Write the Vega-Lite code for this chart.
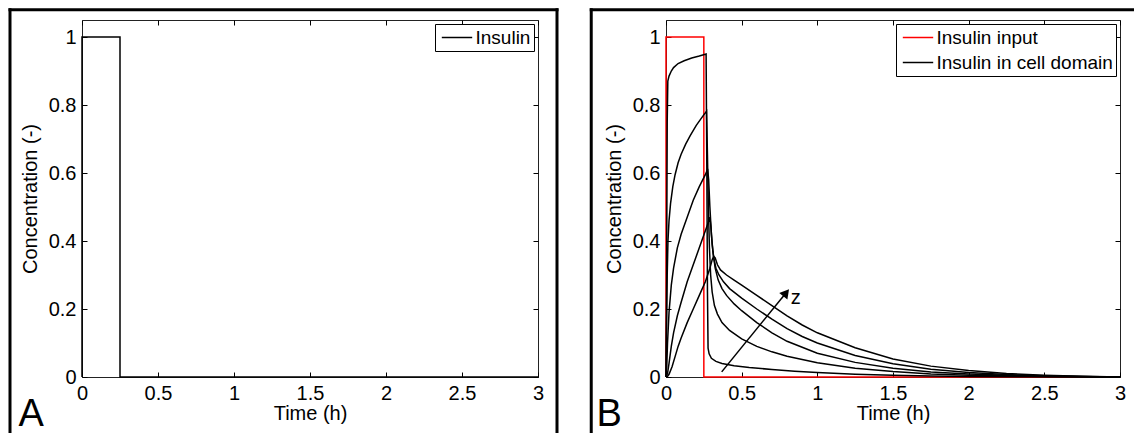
{
  "$schema": "https://vega.github.io/schema/vega-lite/v6.json",
  "padding": {"left": 7, "top": 7, "right": 0, "bottom": 0},
  "background": "white",
  "datasets": {
    "a": [
      {"series": "Insulin", "t": 0, "c": 0},
      {"series": "Insulin", "t": 0, "c": 1},
      {"series": "Insulin", "t": 0.25, "c": 1},
      {"series": "Insulin", "t": 0.25, "c": 0},
      {"series": "Insulin", "t": 3, "c": 0}
    ],
    "names": [
      {"curve": "input", "series": "Insulin input"},
      {"curve": "z1", "series": "Insulin in cell domain"},
      {"curve": "z2", "series": "Insulin in cell domain"},
      {"curve": "z3", "series": "Insulin in cell domain"},
      {"curve": "z4", "series": "Insulin in cell domain"},
      {"curve": "z5", "series": "Insulin in cell domain"}
    ],
    "b": [
      {"curve": "input", "t": 0, "c": 0},
      {"curve": "input", "t": 0, "c": 1},
      {"curve": "input", "t": 0.25, "c": 1},
      {"curve": "input", "t": 0.25, "c": 0},
      {"curve": "input", "t": 3, "c": 0},

      {"curve": "z1", "t": 0, "c": 0},
      {"curve": "z1", "t": 0.004, "c": 0.3},
      {"curve": "z1", "t": 0.008, "c": 0.75},
      {"curve": "z1", "t": 0.012, "c": 0.87},
      {"curve": "z1", "t": 0.02, "c": 0.885},
      {"curve": "z1", "t": 0.035, "c": 0.9},
      {"curve": "z1", "t": 0.05, "c": 0.91},
      {"curve": "z1", "t": 0.08, "c": 0.922},
      {"curve": "z1", "t": 0.12, "c": 0.93},
      {"curve": "z1", "t": 0.17, "c": 0.938},
      {"curve": "z1", "t": 0.22, "c": 0.944},
      {"curve": "z1", "t": 0.265, "c": 0.95},
      {"curve": "z1", "t": 0.27, "c": 0.6},
      {"curve": "z1", "t": 0.274, "c": 0.25},
      {"curve": "z1", "t": 0.278, "c": 0.085},
      {"curve": "z1", "t": 0.285, "c": 0.068},
      {"curve": "z1", "t": 0.3, "c": 0.055},
      {"curve": "z1", "t": 0.33, "c": 0.046},
      {"curve": "z1", "t": 0.37, "c": 0.04},
      {"curve": "z1", "t": 0.45, "c": 0.033},
      {"curve": "z1", "t": 0.55, "c": 0.028},
      {"curve": "z1", "t": 0.7, "c": 0.022},
      {"curve": "z1", "t": 0.85, "c": 0.017},
      {"curve": "z1", "t": 1.0, "c": 0.013},
      {"curve": "z1", "t": 1.25, "c": 0.008},
      {"curve": "z1", "t": 1.5, "c": 0.005},
      {"curve": "z1", "t": 1.75, "c": 0.003},
      {"curve": "z1", "t": 2.0, "c": 0.0015},
      {"curve": "z1", "t": 2.5, "c": 0.0004},
      {"curve": "z1", "t": 3, "c": 0},

      {"curve": "z2", "t": 0, "c": 0},
      {"curve": "z2", "t": 0.004, "c": 0.15},
      {"curve": "z2", "t": 0.008, "c": 0.3},
      {"curve": "z2", "t": 0.013, "c": 0.4},
      {"curve": "z2", "t": 0.02, "c": 0.46},
      {"curve": "z2", "t": 0.03, "c": 0.51},
      {"curve": "z2", "t": 0.045, "c": 0.56},
      {"curve": "z2", "t": 0.06, "c": 0.595},
      {"curve": "z2", "t": 0.08, "c": 0.63},
      {"curve": "z2", "t": 0.1, "c": 0.655},
      {"curve": "z2", "t": 0.13, "c": 0.685},
      {"curve": "z2", "t": 0.16, "c": 0.71},
      {"curve": "z2", "t": 0.2, "c": 0.74},
      {"curve": "z2", "t": 0.24, "c": 0.765},
      {"curve": "z2", "t": 0.268, "c": 0.782},
      {"curve": "z2", "t": 0.274, "c": 0.65},
      {"curve": "z2", "t": 0.28, "c": 0.5},
      {"curve": "z2", "t": 0.287, "c": 0.38},
      {"curve": "z2", "t": 0.295, "c": 0.3},
      {"curve": "z2", "t": 0.305, "c": 0.25},
      {"curve": "z2", "t": 0.32, "c": 0.21},
      {"curve": "z2", "t": 0.34, "c": 0.185},
      {"curve": "z2", "t": 0.37, "c": 0.16},
      {"curve": "z2", "t": 0.42, "c": 0.137},
      {"curve": "z2", "t": 0.5, "c": 0.112},
      {"curve": "z2", "t": 0.6, "c": 0.09},
      {"curve": "z2", "t": 0.7, "c": 0.074},
      {"curve": "z2", "t": 0.8, "c": 0.061},
      {"curve": "z2", "t": 1.0, "c": 0.042},
      {"curve": "z2", "t": 1.25, "c": 0.026},
      {"curve": "z2", "t": 1.5, "c": 0.016},
      {"curve": "z2", "t": 1.75, "c": 0.009},
      {"curve": "z2", "t": 2.0, "c": 0.005},
      {"curve": "z2", "t": 2.5, "c": 0.0015},
      {"curve": "z2", "t": 3, "c": 0},

      {"curve": "z3", "t": 0, "c": 0},
      {"curve": "z3", "t": 0.005, "c": 0.03},
      {"curve": "z3", "t": 0.01, "c": 0.1},
      {"curve": "z3", "t": 0.02, "c": 0.19},
      {"curve": "z3", "t": 0.035, "c": 0.27},
      {"curve": "z3", "t": 0.05, "c": 0.32},
      {"curve": "z3", "t": 0.075, "c": 0.38},
      {"curve": "z3", "t": 0.1, "c": 0.42},
      {"curve": "z3", "t": 0.14, "c": 0.47},
      {"curve": "z3", "t": 0.18, "c": 0.52},
      {"curve": "z3", "t": 0.22, "c": 0.56},
      {"curve": "z3", "t": 0.26, "c": 0.595},
      {"curve": "z3", "t": 0.275, "c": 0.612},
      {"curve": "z3", "t": 0.282, "c": 0.58},
      {"curve": "z3", "t": 0.29, "c": 0.5},
      {"curve": "z3", "t": 0.3, "c": 0.42},
      {"curve": "z3", "t": 0.31, "c": 0.37},
      {"curve": "z3", "t": 0.325, "c": 0.32},
      {"curve": "z3", "t": 0.345, "c": 0.285},
      {"curve": "z3", "t": 0.37, "c": 0.26},
      {"curve": "z3", "t": 0.4, "c": 0.24},
      {"curve": "z3", "t": 0.45, "c": 0.215},
      {"curve": "z3", "t": 0.5, "c": 0.195},
      {"curve": "z3", "t": 0.6, "c": 0.16},
      {"curve": "z3", "t": 0.7, "c": 0.13},
      {"curve": "z3", "t": 0.8, "c": 0.105},
      {"curve": "z3", "t": 1.0, "c": 0.07},
      {"curve": "z3", "t": 1.25, "c": 0.043},
      {"curve": "z3", "t": 1.5, "c": 0.026},
      {"curve": "z3", "t": 1.75, "c": 0.015},
      {"curve": "z3", "t": 2.0, "c": 0.009},
      {"curve": "z3", "t": 2.25, "c": 0.005},
      {"curve": "z3", "t": 2.5, "c": 0.0025},
      {"curve": "z3", "t": 3, "c": 0},

      {"curve": "z4", "t": 0, "c": 0},
      {"curve": "z4", "t": 0.01, "c": 0.01},
      {"curve": "z4", "t": 0.02, "c": 0.04},
      {"curve": "z4", "t": 0.035, "c": 0.09},
      {"curve": "z4", "t": 0.05, "c": 0.13},
      {"curve": "z4", "t": 0.075, "c": 0.18},
      {"curve": "z4", "t": 0.1, "c": 0.22},
      {"curve": "z4", "t": 0.14, "c": 0.28},
      {"curve": "z4", "t": 0.18, "c": 0.33},
      {"curve": "z4", "t": 0.22, "c": 0.38},
      {"curve": "z4", "t": 0.26, "c": 0.43},
      {"curve": "z4", "t": 0.28, "c": 0.455},
      {"curve": "z4", "t": 0.29, "c": 0.47},
      {"curve": "z4", "t": 0.297, "c": 0.44},
      {"curve": "z4", "t": 0.305, "c": 0.39},
      {"curve": "z4", "t": 0.315, "c": 0.35},
      {"curve": "z4", "t": 0.33, "c": 0.32},
      {"curve": "z4", "t": 0.35, "c": 0.3},
      {"curve": "z4", "t": 0.38, "c": 0.28},
      {"curve": "z4", "t": 0.42, "c": 0.26},
      {"curve": "z4", "t": 0.5, "c": 0.232},
      {"curve": "z4", "t": 0.6, "c": 0.2},
      {"curve": "z4", "t": 0.7, "c": 0.17},
      {"curve": "z4", "t": 0.8, "c": 0.142},
      {"curve": "z4", "t": 0.9, "c": 0.119},
      {"curve": "z4", "t": 1.0, "c": 0.1},
      {"curve": "z4", "t": 1.25, "c": 0.063},
      {"curve": "z4", "t": 1.5, "c": 0.039},
      {"curve": "z4", "t": 1.75, "c": 0.023},
      {"curve": "z4", "t": 2.0, "c": 0.013},
      {"curve": "z4", "t": 2.25, "c": 0.007},
      {"curve": "z4", "t": 2.5, "c": 0.0035},
      {"curve": "z4", "t": 2.75, "c": 0.0015},
      {"curve": "z4", "t": 3, "c": 0},

      {"curve": "z5", "t": 0, "c": 0},
      {"curve": "z5", "t": 0.01, "c": 0.002},
      {"curve": "z5", "t": 0.02, "c": 0.008},
      {"curve": "z5", "t": 0.04, "c": 0.03},
      {"curve": "z5", "t": 0.06, "c": 0.06},
      {"curve": "z5", "t": 0.08, "c": 0.09},
      {"curve": "z5", "t": 0.1, "c": 0.115},
      {"curve": "z5", "t": 0.14, "c": 0.16},
      {"curve": "z5", "t": 0.18, "c": 0.2},
      {"curve": "z5", "t": 0.22, "c": 0.24},
      {"curve": "z5", "t": 0.26, "c": 0.28},
      {"curve": "z5", "t": 0.29, "c": 0.32},
      {"curve": "z5", "t": 0.305, "c": 0.345},
      {"curve": "z5", "t": 0.315, "c": 0.355},
      {"curve": "z5", "t": 0.325, "c": 0.35},
      {"curve": "z5", "t": 0.34, "c": 0.33},
      {"curve": "z5", "t": 0.36, "c": 0.315},
      {"curve": "z5", "t": 0.4, "c": 0.3},
      {"curve": "z5", "t": 0.45, "c": 0.285},
      {"curve": "z5", "t": 0.5, "c": 0.27},
      {"curve": "z5", "t": 0.6, "c": 0.24},
      {"curve": "z5", "t": 0.7, "c": 0.21},
      {"curve": "z5", "t": 0.8, "c": 0.18},
      {"curve": "z5", "t": 0.9, "c": 0.153},
      {"curve": "z5", "t": 1.0, "c": 0.13},
      {"curve": "z5", "t": 1.25, "c": 0.086},
      {"curve": "z5", "t": 1.5, "c": 0.053},
      {"curve": "z5", "t": 1.75, "c": 0.032},
      {"curve": "z5", "t": 2.0, "c": 0.019},
      {"curve": "z5", "t": 2.25, "c": 0.01},
      {"curve": "z5", "t": 2.5, "c": 0.005},
      {"curve": "z5", "t": 2.75, "c": 0.002},
      {"curve": "z5", "t": 3, "c": 0}
    ]
  },
  "config": {
    "font": "Liberation Sans",
    "view": {"stroke": "#222222", "strokeWidth": 1},
    "axis": {
      "grid": false,
      "domain": false,
      "tickColor": "black",
      "tickSize": -5,
      "tickWidth": 1,
      "labelFont": "Liberation Sans",
      "labelFontSize": 20,
      "labelColor": "black",
      "labelPadding": 11,
      "labelFlush": false,
      "labelOverlap": false,
      "labelBound": false,
      "titleFont": "Liberation Sans",
      "titleFontSize": 20,
      "titleFontWeight": "normal",
      "titleColor": "black"
    },
    "axisX": {"titlePadding": 0},
    "axisY": {"titlePadding": 8},
    "legend": {
      "symbolType": "M-1.6,0H1.6",
      "symbolSize": 361,
      "symbolStrokeWidth": 1.5,
      "symbolOffset": 8.5,
      "labelFont": "Liberation Sans",
      "labelFontSize": 19,
      "labelColor": "black",
      "labelLimit": 0,
      "strokeColor": "black",
      "fillColor": "white",
      "padding": 3,
      "rowPadding": 4,
      "labelOffset": 8,
      "offset": 4,
      "cornerRadius": 0
    }
  },
  "spacing": 128,
  "bounds": "flush",
  "resolve": {"scale": {"color": "independent"}, "legend": {"color": "independent"}},
  "hconcat": [
    {
      "width": 456,
      "height": 357,
      "layer": [
        {
          "data": {"name": "a"},
          "mark": {"type": "line", "strokeWidth": 1.5},
          "encoding": {
            "x": {"field": "t", "type": "quantitative", "scale": {"domain": [0, 3], "nice": false},
                  "axis": {"values": [0, 0.5, 1, 1.5, 2, 2.5, 3], "format": "~g", "title": "Time (h)"}},
            "y": {"field": "c", "type": "quantitative", "scale": {"domain": [0, 1.05], "nice": false},
                  "axis": {"values": [0, 0.2, 0.4, 0.6, 0.8, 1], "format": "~g", "title": "Concentration (-)"}},
            "color": {"field": "series", "type": "nominal", "scale": {"domain": ["Insulin"], "range": ["black"]},
                      "legend": {"title": null, "orient": "top-right"}}
          }
        },
        {
          "data": {"values": [{}]},
          "mark": {"type": "rule", "strokeWidth": 3, "strokeCap": "square", "color": "black", "clip": false},
          "encoding": {
            "x": {"datum": -0.4737, "type": "quantitative", "scale": {"domain": [0, 3], "nice": false},
                  "axis": {"orient": "top", "values": [0, 0.5, 1, 1.5, 2, 2.5, 3], "labels": false, "title": null}},
            "y": {"datum": -0.164, "type": "quantitative", "scale": {"domain": [0, 1.05], "nice": false},
                  "axis": {"orient": "right", "values": [0, 0.2, 0.4, 0.6, 0.8, 1], "labels": false, "title": null}},
            "y2": {"datum": 1.08}
          }
        },
        {
          "data": {"values": [{}]},
          "mark": {"type": "rule", "strokeWidth": 3, "strokeCap": "square", "color": "black", "clip": false},
          "encoding": {
            "x": {"datum": -0.4737, "type": "quantitative", "scale": {"domain": [0, 3], "nice": false}, "axis": null},
            "x2": {"datum": 3.125},
            "y": {"datum": 1.08, "type": "quantitative", "scale": {"domain": [0, 1.05], "nice": false}, "axis": null}
          }
        },
        {
          "data": {"values": [{}]},
          "mark": {"type": "rule", "strokeWidth": 3, "strokeCap": "square", "color": "black", "clip": false},
          "encoding": {
            "x": {"datum": 3.125, "type": "quantitative", "scale": {"domain": [0, 3], "nice": false}, "axis": null},
            "y": {"datum": -0.164, "type": "quantitative", "scale": {"domain": [0, 1.05], "nice": false}, "axis": null},
            "y2": {"datum": 1.08}
          }
        },
        {
          "data": {"values": [{}]},
          "mark": {"type": "text", "text": "A", "fontSize": 38, "align": "left", "baseline": "bottom", "color": "black", "clip": false, "font": "Liberation Sans"},
          "encoding": {
            "x": {"datum": -0.418, "type": "quantitative", "scale": {"domain": [0, 3], "nice": false}, "axis": null},
            "y": {"datum": -0.1675, "type": "quantitative", "scale": {"domain": [0, 1.05], "nice": false}, "axis": null}
          }
        }
      ],
      "resolve": {"axis": {"x": "independent", "y": "independent"}}
    },
    {
      "width": 454,
      "height": 357,
      "layer": [
        {
          "data": {"name": "b"},
          "transform": [{"lookup": "curve", "from": {"data": {"name": "names"}, "key": "curve", "fields": ["series"]}}],
          "mark": {"type": "line", "strokeWidth": 1.5},
          "encoding": {
            "x": {"field": "t", "type": "quantitative", "scale": {"domain": [0, 3], "nice": false},
                  "axis": {"values": [0, 0.5, 1, 1.5, 2, 2.5, 3], "format": "~g", "title": "Time (h)"}},
            "y": {"field": "c", "type": "quantitative", "scale": {"domain": [0, 1.05], "nice": false},
                  "axis": {"values": [0, 0.2, 0.4, 0.6, 0.8, 1], "format": "~g", "title": "Concentration (-)"}},
            "color": {"field": "series", "type": "nominal",
                      "scale": {"domain": ["Insulin input", "Insulin in cell domain"], "range": ["#ff0000", "black"]},
                      "legend": {"title": null, "orient": "top-right"}},
            "detail": {"field": "curve"}
          }
        },
        {
          "data": {"values": [{}]},
          "mark": {"type": "rule", "strokeWidth": 3, "strokeCap": "square", "color": "black", "clip": false},
          "encoding": {
            "x": {"datum": -0.494, "type": "quantitative", "scale": {"domain": [0, 3], "nice": false},
                  "axis": {"orient": "top", "values": [0, 0.5, 1, 1.5, 2, 2.5, 3], "labels": false, "title": null}},
            "y": {"datum": -0.164, "type": "quantitative", "scale": {"domain": [0, 1.05], "nice": false},
                  "axis": {"orient": "right", "values": [0, 0.2, 0.4, 0.6, 0.8, 1], "labels": false, "title": null}},
            "y2": {"datum": 1.08}
          }
        },
        {
          "data": {"values": [{}]},
          "mark": {"type": "rule", "strokeWidth": 3, "strokeCap": "square", "color": "black", "clip": false},
          "encoding": {
            "x": {"datum": -0.494, "type": "quantitative", "scale": {"domain": [0, 3], "nice": false}, "axis": null},
            "x2": {"datum": 3.094},
            "y": {"datum": 1.08, "type": "quantitative", "scale": {"domain": [0, 1.05], "nice": false}, "axis": null}
          }
        },
        {
          "data": {"values": [{}]},
          "mark": {"type": "text", "text": "B", "fontSize": 38, "align": "left", "baseline": "bottom", "color": "black", "clip": false, "font": "Liberation Sans"},
          "encoding": {
            "x": {"datum": -0.46, "type": "quantitative", "scale": {"domain": [0, 3], "nice": false}, "axis": null},
            "y": {"datum": -0.1675, "type": "quantitative", "scale": {"domain": [0, 1.05], "nice": false}, "axis": null}
          }
        },
        {
          "data": {"values": [{}]},
          "mark": {"type": "rule", "strokeWidth": 1.5, "color": "black"},
          "encoding": {
            "x": {"datum": 0.368, "type": "quantitative", "scale": {"domain": [0, 3], "nice": false}, "axis": null},
            "x2": {"datum": 0.794},
            "y": {"datum": 0.015, "type": "quantitative", "scale": {"domain": [0, 1.05], "nice": false}, "axis": null},
            "y2": {"datum": 0.248}
          }
        },
        {
          "data": {"values": [{}]},
          "mark": {"type": "point", "shape": "triangle-up", "filled": true, "size": 110, "angle": 39, "color": "black", "opacity": 1},
          "encoding": {
            "x": {"datum": 0.794, "type": "quantitative", "scale": {"domain": [0, 3], "nice": false}, "axis": null},
            "y": {"datum": 0.248, "type": "quantitative", "scale": {"domain": [0, 1.05], "nice": false}, "axis": null}
          }
        },
        {
          "data": {"values": [{}]},
          "mark": {"type": "text", "text": "z", "fontSize": 20, "align": "center", "baseline": "middle", "color": "black", "font": "Liberation Sans"},
          "encoding": {
            "x": {"datum": 0.857, "type": "quantitative", "scale": {"domain": [0, 3], "nice": false}, "axis": null},
            "y": {"datum": 0.232, "type": "quantitative", "scale": {"domain": [0, 1.05], "nice": false}, "axis": null}
          }
        }
      ],
      "resolve": {"axis": {"x": "independent", "y": "independent"}}
    }
  ]
}
